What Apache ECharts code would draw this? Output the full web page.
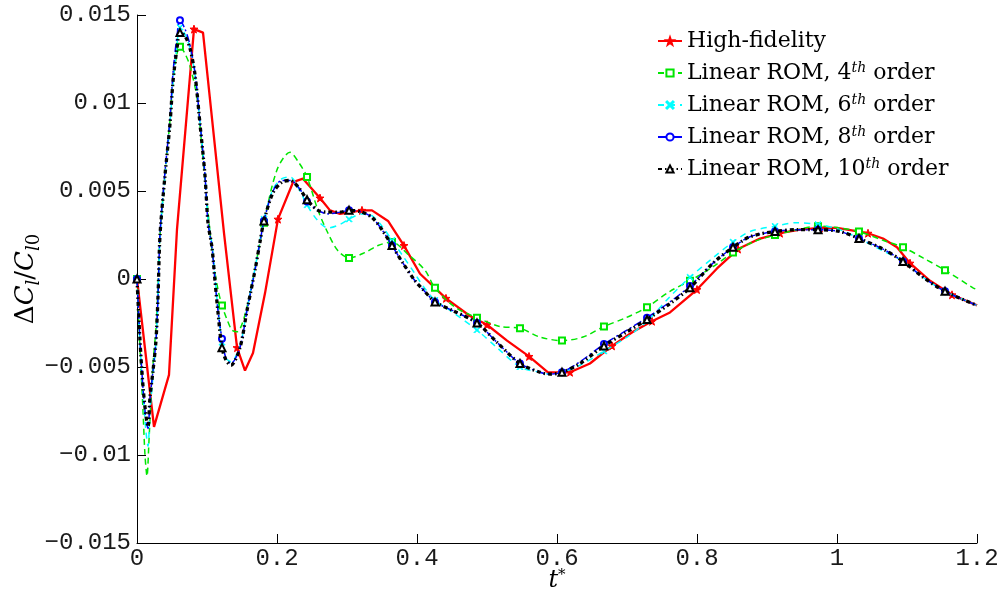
<!DOCTYPE html>
<html>
<head>
<meta charset="utf-8">
<script src="https://cdn.jsdelivr.net/npm/echarts@6/dist/echarts.min.js"></script>
<style>html,body{margin:0;padding:0;background:#fff}#c{width:998px;height:592px}</style>
</head>
<body>
<div id="c"></div>
<script>
// ---- data ----
const seriesNames = ['High-fidelity', 'Linear ROM, 4th order', 'Linear ROM, 6th order', 'Linear ROM, 8th order', 'Linear ROM, 10th order'];
const xTickLabels = ['0', '0.2', '0.4', '0.6', '0.8', '1', '1.2'];
const yTickLabels = ['\u22120.015', '\u22120.01', '\u22120.005', '0', '0.005', '0.01', '0.015'];

const hfT = [0, 0.0243, 0.0457, 0.0571, 0.0814, 0.0943, 0.1243, 0.1429, 0.1543, 0.1657, 0.1829, 0.2014, 0.2229, 0.2371, 0.2614, 0.2757, 0.29, 0.3214, 0.3357, 0.3586, 0.3814, 0.4043, 0.4414, 0.4757, 0.5, 0.5286, 0.56, 0.5871, 0.6186, 0.6471, 0.6786, 0.7086, 0.7357, 0.7614, 0.8, 0.8286, 0.8586, 0.89, 0.9186, 0.9471, 0.9757, 1.0, 1.0443, 1.0657, 1.0857, 1.1043, 1.1329, 1.1643, 1.2];
const hfY = [0, -0.0084, -0.00545, 0.0028, 0.0142, 0.0140, 0.0026, -0.0039, -0.0052, -0.0042, -0.0008, 0.0034, 0.0055, 0.0057, 0.0046, 0.0039, 0.0037, 0.0039, 0.0039, 0.0033, 0.0019, 0.0003, -0.0011, -0.0021, -0.0026, -0.0035, -0.0044, -0.0053, -0.0053, -0.0048, -0.0038, -0.0030, -0.0024, -0.0019, -0.0006, 0.0006, 0.0017, 0.0023, 0.0026, 0.0028, 0.0029, 0.0029, 0.0026, 0.0023, 0.0018, 0.0009, -0.0001, -0.0009, -0.0015];
const hfMarkT = [0, 0.0814, 0.1429, 0.2014, 0.2614, 0.3214, 0.3814, 0.4414, 0.5, 0.56, 0.6186, 0.6786, 0.7357, 0.8, 0.8586, 0.9186, 0.9757, 1.0443, 1.1043, 1.1643];

const rom4T = [0, 0.0043, 0.0086, 0.0114, 0.0143, 0.0171, 0.02, 0.0229, 0.0271, 0.03, 0.0329, 0.04, 0.0471, 0.0514, 0.0571, 0.0614, 0.0686, 0.0757, 0.0857, 0.0929, 0.1, 0.1086, 0.1157, 0.1214, 0.1286, 0.1357, 0.1429, 0.1571, 0.1814, 0.2, 0.2186, 0.2314, 0.2429, 0.2586, 0.2729, 0.2871, 0.3029, 0.3257, 0.3443, 0.3643, 0.3871, 0.4114, 0.4257, 0.4543, 0.4857, 0.5186, 0.5471, 0.5757, 0.6071, 0.6371, 0.6671, 0.6986, 0.7286, 0.7614, 0.79, 0.8229, 0.8514, 0.88, 0.9114, 0.9429, 0.9729, 1.0043, 1.0314, 1.0657, 1.0943, 1.1229, 1.1543, 1.1943, 1.2];
const rom4Y = [0, -0.004, -0.0075, -0.01, -0.0112, -0.0092, -0.0068, -0.0048, -0.0028, -0.0005, 0.0025, 0.006, 0.009, 0.0113, 0.0128, 0.0132, 0.0128, 0.0121, 0.0103, 0.0074, 0.0044, 0.0011, -0.0006, -0.0015, -0.0023, -0.0029, -0.003, -0.0016, 0.0032, 0.0062, 0.0072, 0.0066, 0.0058, 0.0039, 0.0026, 0.0016, 0.0012, 0.0015, 0.0019, 0.0021, 0.0014, 0.0005, -0.0005, -0.0016, -0.0022, -0.0027, -0.0028, -0.0033, -0.0035, -0.0033, -0.0027, -0.0022, -0.0016, -0.0007, -0.0001, 0.0007, 0.0015, 0.0021, 0.0025, 0.0028, 0.003, 0.0029, 0.0027, 0.0022, 0.0018, 0.0012, 0.0005, -0.0005, -0.0006];

const romT = [0, 0.0043, 0.0086, 0.0129, 0.0157, 0.0186, 0.0229, 0.0271, 0.03, 0.0329, 0.04, 0.0471, 0.0514, 0.0571, 0.0614, 0.0686, 0.0757, 0.0829, 0.09, 0.0971, 0.1014, 0.1071, 0.1114, 0.1157, 0.1214, 0.1271, 0.1343, 0.1471, 0.1571, 0.1686, 0.1757, 0.1814, 0.1943, 0.2071, 0.2186, 0.2329, 0.2429, 0.2586, 0.2729, 0.29, 0.3029, 0.3214, 0.3357, 0.35, 0.3643, 0.38, 0.3971, 0.4086, 0.4257, 0.4514, 0.4857, 0.5143, 0.5471, 0.5757, 0.59, 0.6071, 0.6329, 0.6671, 0.7, 0.7286, 0.7614, 0.79, 0.8229, 0.8514, 0.8757, 0.9114, 0.9429, 0.9729, 1.0043, 1.0314, 1.0657, 1.0943, 1.1229, 1.1543, 1.2];
const rom6Y = [0, -0.0037, -0.0065, -0.0087, -0.0095, -0.0075, -0.0055, -0.0036, -0.0011, 0.0024, 0.0058, 0.0088, 0.0112, 0.0133, 0.0143, 0.0139, 0.0131, 0.0116, 0.0089, 0.0060, 0.0034, 0.0020, 0.0001, -0.0017, -0.0036, -0.0045, -0.0047, -0.0038, -0.0017, 0.0006, 0.0022, 0.0034, 0.0051, 0.0057, 0.0058, 0.0050, 0.0042, 0.0033, 0.0029, 0.0031, 0.0034, 0.0037, 0.0036, 0.0030, 0.0022, 0.0013, 0.0003, -0.0004, -0.0012, -0.0019, -0.0029, -0.0039, -0.0050, -0.0053, -0.0054, -0.0053, -0.0049, -0.0041, -0.0033, -0.0024, -0.0010, 0.0001, 0.0012, 0.0021, 0.0027, 0.0030, 0.0032, 0.0031, 0.0028, 0.0023, 0.0016, 0.0010, 0.0001, -0.0007, -0.0015];
const rom8Y = [0, -0.0035, -0.0062, -0.0080, -0.0085, -0.0068, -0.0052, -0.0035, -0.0010, 0.0026, 0.0061, 0.0091, 0.0117, 0.0138, 0.0147, 0.0142, 0.0133, 0.0117, 0.0089, 0.0059, 0.0032, 0.0018, -0.0001, -0.0018, -0.0034, -0.0045, -0.0048, -0.0039, -0.0018, 0.0005, 0.0021, 0.0033, 0.0050, 0.0056, 0.0056, 0.0051, 0.0044, 0.0039, 0.0037, 0.0038, 0.0039, 0.0038, 0.0035, 0.0028, 0.0019, 0.0009, -0.0001, -0.0006, -0.0013, -0.0018, -0.0025, -0.0036, -0.0048, -0.0053, -0.0054, -0.0053, -0.0047, -0.0037, -0.0029, -0.0022, -0.0013, -0.0004, 0.0009, 0.0018, 0.0024, 0.0027, 0.0028, 0.0028, 0.0027, 0.0023, 0.0017, 0.0010, 0.0001, -0.0007, -0.0015];
const rom10Y = [0, -0.0035, -0.0061, -0.0078, -0.0084, -0.0067, -0.0052, -0.0035, -0.0010, 0.0025, 0.0059, 0.0088, 0.0112, 0.0131, 0.0140, 0.0138, 0.0131, 0.0116, 0.0088, 0.0059, 0.0032, 0.0018, -0.0001, -0.0019, -0.0039, -0.0046, -0.0049, -0.0039, -0.0018, 0.0005, 0.0021, 0.0033, 0.0049, 0.0055, 0.0056, 0.0051, 0.0045, 0.0039, 0.0038, 0.0038, 0.0039, 0.0038, 0.0035, 0.0028, 0.0019, 0.0009, -0.0001, -0.0006, -0.0013, -0.0018, -0.0025, -0.0036, -0.0048, -0.0053, -0.0054, -0.0053, -0.0048, -0.0038, -0.0030, -0.0023, -0.0014, -0.0005, 0.0009, 0.0018, 0.0024, 0.0027, 0.0028, 0.0028, 0.0027, 0.0023, 0.0017, 0.0010, 0.0001, -0.0007, -0.0015];
const romMarkT = [0, 0.0614, 0.1214, 0.1814, 0.2429, 0.3029, 0.3643, 0.4257, 0.4857, 0.5471, 0.6071, 0.6671, 0.7286, 0.79, 0.8514, 0.9114, 0.9729, 1.0314, 1.0943, 1.1543];

// ---- chart ----
const zip = (t, y) => t.map((v, i) => [v, y[i]]);
const starPath = 'path://M0,-10L2.35,-3.24L9.51,-3.09L3.8,1.24L5.88,8.09L0,4L-5.88,8.09L-3.8,1.24L-9.51,-3.09L-2.35,-3.24Z';
const xPath = 'path://M0,1L1,0L5,4L9,0L10,1L6,5L10,9L9,10L5,6L1,10L0,9L4,5Z';
const sizeFn = (marks, s) => (v) => (marks.indexOf(v[0]) >= 0 ? s : 0);

function mk(name, t, y, marks, color, lineType, width, symbol, ssize, smooth, z) {
  return {
    name: name, type: 'line', data: zip(t, y), smooth: smooth, z: z,
    showSymbol: true, showAllSymbol: true,
    symbol: symbol, symbolSize: sizeFn(marks, ssize),
    lineStyle: { color: color, width: width, type: lineType },
    itemStyle: { color: color, borderColor: color, borderWidth: 1 },
    emphasis: { disabled: true }, animation: false
  };
}

const series = [
  mk(seriesNames[0], hfT, hfY, hfMarkT, '#ff0000', 'solid', 2.3, starPath, 8, false, 2),
  mk(seriesNames[1], rom4T, rom4Y, romMarkT, '#00e600', [6, 4], 1.5, 'emptyRect', 6, 0.3, 3),
  mk(seriesNames[2], romT, rom6Y, romMarkT, '#00ffff', [6, 5], 1.5, xPath, 6, 0.3, 4),
  mk(seriesNames[3], romT, rom8Y, romMarkT, '#0000ff', [8, 3, 2, 3], 1.5, 'emptyCircle', 6, 0.3, 5),
  mk(seriesNames[4], romT, rom10Y, romMarkT, '#000000', [4, 3, 1.5, 3], 3.3, 'emptyTriangle', 7, 0.3, 6)
];

const legendLabel = {
  'High-fidelity': '{n|High-fidelity}',
  'Linear ROM, 4th order': '{n|Linear ROM, 4}{s|th}{n| order}',
  'Linear ROM, 6th order': '{n|Linear ROM, 6}{s|th}{n| order}',
  'Linear ROM, 8th order': '{n|Linear ROM, 8}{s|th}{n| order}',
  'Linear ROM, 10th order': '{n|Linear ROM, 10}{s|th}{n| order}'
};

const chart = echarts.init(document.getElementById('c'), null, { renderer: 'canvas' });
chart.setOption({
  backgroundColor: '#ffffff',
  animation: false,
  grid: { left: 137, right: 21, top: 15, bottom: 49, containLabel: false, outerBoundsMode: 'none' },
  legend: {
    orient: 'vertical', left: 652, top: 25, itemWidth: 24, itemHeight: 9, itemGap: 9,
    data: seriesNames,
    formatter: (n) => legendLabel[n],
    textStyle: {
      color: '#000',
      rich: {
        n: { fontFamily: 'DejaVu Serif', fontSize: 22, lineHeight: 24, color: '#000' },
        s: { fontFamily: 'DejaVu Serif', fontSize: 14, fontStyle: 'italic', lineHeight: 12, verticalAlign: 'top', color: '#000' }
      }
    }
  },
  xAxis: {
    type: 'value', min: 0, max: 1.2, interval: 0.2,
    name: '{t|t}{s|*}', nameLocation: 'middle', nameGap: 25, nameMoveOverlap: false,
    nameTextStyle: {
      rich: {
        t: { fontFamily: 'DejaVu Serif', fontStyle: 'italic', fontSize: 24, lineHeight: 26, color: '#000' },
        s: { fontFamily: 'DejaVu Serif', fontSize: 15, lineHeight: 14, verticalAlign: 'top', color: '#000' }
      }
    },
    axisLine: { show: true, onZero: false, lineStyle: { color: '#000', width: 1 } },
    axisTick: { show: true, inside: true, length: 9, lineStyle: { color: '#000' } },
    splitLine: { show: false },
    axisLabel: {
      margin: 4, fontFamily: 'Liberation Mono', fontSize: 24, color: '#1a1a1a',
      formatter: (v) => xTickLabels[Math.round(v / 0.2)]
    }
  },
  yAxis: {
    type: 'value', min: -0.015, max: 0.015, interval: 0.005,
    name: '{n|\u0394}{i|C}{sub|l}{n|/}{i|C}{sub|l}{s0|0}', nameLocation: 'middle', nameGap: 94, nameRotate: 90, nameMoveOverlap: false,
    nameTextStyle: {
      rich: {
        n: { fontFamily: 'DejaVu Serif', fontSize: 26, lineHeight: 34, verticalAlign: 'middle', color: '#000' },
        i: { fontFamily: 'DejaVu Serif', fontStyle: 'italic', fontSize: 26, lineHeight: 34, verticalAlign: 'middle', color: '#000' },
        sub: { fontFamily: 'DejaVu Serif', fontStyle: 'italic', fontSize: 18, lineHeight: 18, verticalAlign: 'bottom', color: '#000' },
        s0: { fontFamily: 'DejaVu Serif', fontSize: 18, lineHeight: 18, verticalAlign: 'bottom', color: '#000' }
      }
    },
    axisLine: { show: true, onZero: false, lineStyle: { color: '#000', width: 1 } },
    axisTick: { show: true, inside: true, length: 9, lineStyle: { color: '#000' } },
    splitLine: { show: false },
    axisLabel: {
      margin: 6, fontFamily: 'Liberation Mono', fontSize: 24, color: '#1a1a1a',
      formatter: (v) => yTickLabels[Math.round((v + 0.015) / 0.005)]
    }
  },
  series: series
});
</script>
</body>
</html>
